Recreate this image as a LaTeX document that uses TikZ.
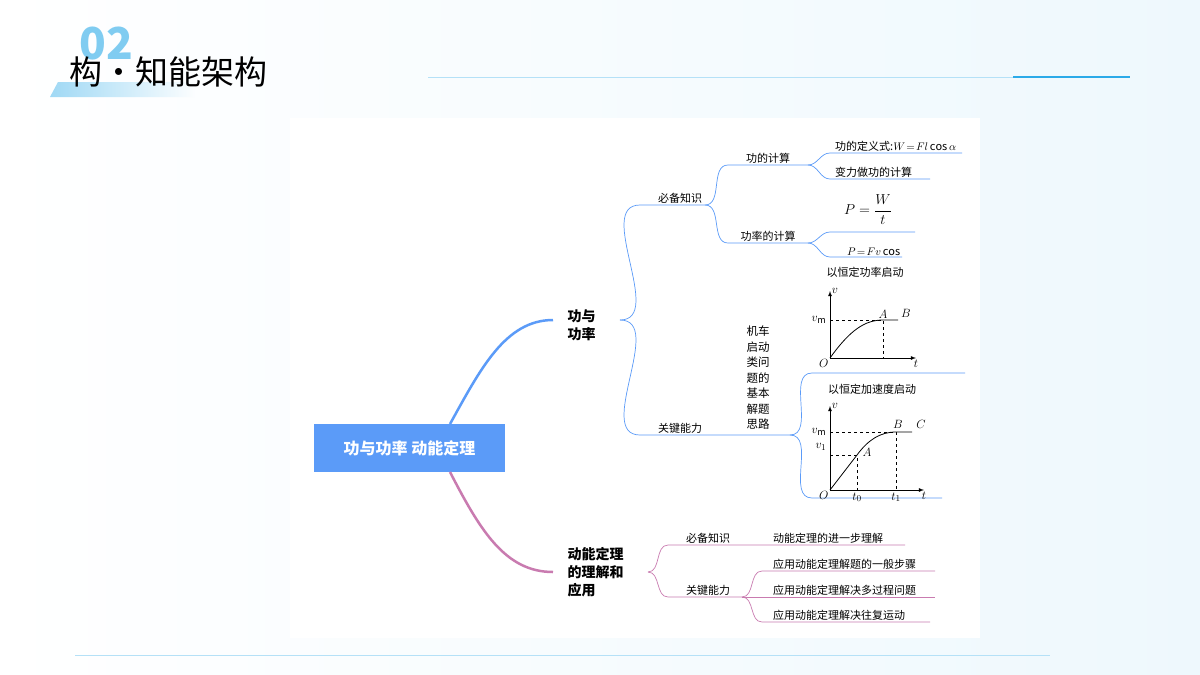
\documentclass[tikz,border=0pt]{standalone}
\usepackage{fontspec}
\setmainfont{Noto Sans CJK SC}
\usetikzlibrary{positioning}
\definecolor{lblue}{HTML}{5B9BF8}
\definecolor{lpink}{HTML}{C97BB0}
\definecolor{skyb}{HTML}{2BAAE8}
\tikzset{
  bline/.style={lblue, line width=0.7pt},
  pline/.style={lpink, line width=0.7pt},
  lbl/.style={font=\fontsize{11}{12}\selectfont, inner sep=1pt, anchor=south},
  big/.style={font=\fontsize{14}{18}\selectfont\bfseries, align=left, anchor=west},
  gtxt/.style={font=\fontsize{11}{12}\selectfont, inner sep=1pt},
  glbl/.style={font=\fontsize{13}{14}\selectfont, inner sep=1.5pt}
}
\begin{document}
\begin{tikzpicture}[x=1pt, y=-1pt]
  \useasboundingbox (0,0) rectangle (1200,675);
  \shade[left color=white, right color=skyb!8] (0,0) rectangle (1200,675);

  % Header
  \shade[left color=skyb!45, right color=white] (58,82) -- (200,82) -- (195,97) -- (50,97) -- cycle;
  \node (num) at (106,44) {\textcolor{skyb!60}{\fontsize{44}{46}\selectfont\bfseries 02}};
  \node (title) [anchor=west] at (66,72) {\fontsize{33}{36}\selectfont 构·知能架构};
  \draw[skyb!35, line width=0.8pt] (428,77) -- (1130,77);
  \draw[skyb, line width=2.5pt] (1013,77) -- (1130,77);
  \draw[skyb!35, line width=0.8pt] (75,655) -- (1050,655);

  % Panel
  \fill[white] (290,118) rectangle (980,638);

  % Root
  \node (root) [fill=lblue, text=white, minimum width=191pt, minimum height=48pt,
    font=\fontsize{16}{18}\selectfont\bfseries] at (409.5,448) {功与功率\ 动能定理};
  \node (work) [big] at (564,325) {功与\\功率};
  \node (kin) [big] at (564,572) {动能定理\\的理解和\\应用};
  \draw[lblue, line width=2.5pt] (450,424) .. controls (480,370) and (505,320) .. (553,320);
  \draw[lpink, line width=2.5pt] (450,472) .. controls (480,530) and (505,572) .. (553,572);

  % Work branch
  \coordinate (w0) at (620,320);
  \node (need1) [lbl] at (680,205) {必备知识};
  \node (key1) [lbl] at (680,435) {关键能力};
  \draw[bline] (w0) to[out=0,in=180] (640,205) -- (705,205);
  \draw[bline] (w0) to[out=0,in=180] (640,435) -- (790,435);
  \node (calcW) [lbl] at (768,165) {功的计算};
  \node (calcP) [lbl] at (768,243) {功率的计算};
  \draw[bline] (705,205) to[out=0,in=180] (728,165) -- (808,165);
  \draw[bline] (705,205) to[out=0,in=180] (728,243) -- (808,243);
  \node (defW) [lbl, anchor=south west] at (834,153) {功的定义式:$W\!=\!Fl\cos\alpha$};
  \node (varF) [lbl, anchor=south west] at (834,179) {变力做功的计算};
  \node (pwt) [anchor=south] at (868,228) {\fontsize{14}{16}\selectfont$P=\displaystyle\frac{W}{t}$};
  \node (pfv) [lbl, anchor=south west] at (846,257) {\fontsize{11}{12}\selectfont$P\!=\!Fv\cos$};
  \draw[bline] (808,165) to[out=0,in=180] (830,153) -- (962,153);
  \draw[bline] (808,165) to[out=0,in=180] (830,179) -- (930,179);
  \draw[bline] (808,243) to[out=0,in=180] (830,232) -- (915,232);
  \draw[bline] (808,243) to[out=0,in=180] (830,257) -- (902,257);

  % Train start
  \node (train) [font=\fontsize{11.5}{15.5}\selectfont, inner sep=0pt, align=center] at (758,378) {机车\\启动\\类问\\题的\\基本\\解题\\思路};
  \draw[bline] (790,435) to[out=0,in=180] (812,373) -- (965,373);
  \draw[bline] (790,435) to[out=0,in=180] (812,498) -- (942,498);

  % Graph 1
  \node (g1) [gtxt] at (865,272) {以恒定功率启动};
  \draw[-latex, thick] (830,358) -- (830,291) node[right, glbl] {$v$};
  \draw[-latex, thick] (830,358) -- (916,358) node[below, glbl] {$t$};
  \draw[thick] (830,358) .. controls (850,330) and (865,320) .. (883,320) -- (898,320);
  \draw[dashed] (830,320) -- (883,320) -- (883,358);
  \node at (828,320) [left, glbl] {$v_{\mathrm m}$};
  \node at (883,320) [above, glbl] {$A$};
  \node at (906,313) [glbl] {$B$};
  \node at (830,358) [below left, glbl] {$O$};

  % Graph 2
  \node (g2) [gtxt] at (872,389) {以恒定加速度启动};
  \draw[-latex, thick] (830,490) -- (830,406) node[right, glbl] {$v$};
  \draw[-latex, thick] (830,490) -- (924,490) node[below, glbl] {$t$};
  \draw[thick] (830,490) -- (857,455) .. controls (868,440) and (880,432) .. (896,432) -- (912,432);
  \draw[dashed] (830,432) -- (896,432) -- (896,490);
  \draw[dashed] (830,455) -- (857,455) -- (857,490);
  \node at (828,432) [left, glbl] {$v_{\mathrm m}$};
  \node at (828,447) [left, glbl] {$v_1$};
  \node at (867,452) [glbl] {$A$};
  \node at (898,424) [glbl] {$B$};
  \node at (921,424) [glbl] {$C$};
  \node at (830,490) [below left, glbl] {$O$};
  \node at (857,491) [below, glbl] {$t_0$};
  \node at (896,491) [below, glbl] {$t_1$};

  % Kinetic energy branch
  \coordinate (k0) at (648,572);
  \node (need2) [lbl] at (708,545) {必备知识};
  \node (key2) [lbl] at (708,597) {关键能力};
  \draw[pline] (k0) to[out=0,in=180] (668,545) -- (905,545);
  \draw[pline] (k0) to[out=0,in=180] (668,597) -- (742,597);
  \node (deep) [lbl, anchor=south west] at (772,545) {动能定理的进一步理解};
  \node (step) [lbl, anchor=south west] at (772,571) {应用动能定理解题的一般步骤};
  \node (multi) [lbl, anchor=south west] at (772,597) {应用动能定理解决多过程问题};
  \node (back) [lbl, anchor=south west] at (772,622) {应用动能定理解决往复运动};
  \draw[pline] (742,597) to[out=0,in=180] (762,571) -- (935,571);
  \draw[pline] (742,597) -- (935,597);
  \draw[pline] (742,597) to[out=0,in=180] (762,622) -- (930,622);
\end{tikzpicture}
\end{document}
